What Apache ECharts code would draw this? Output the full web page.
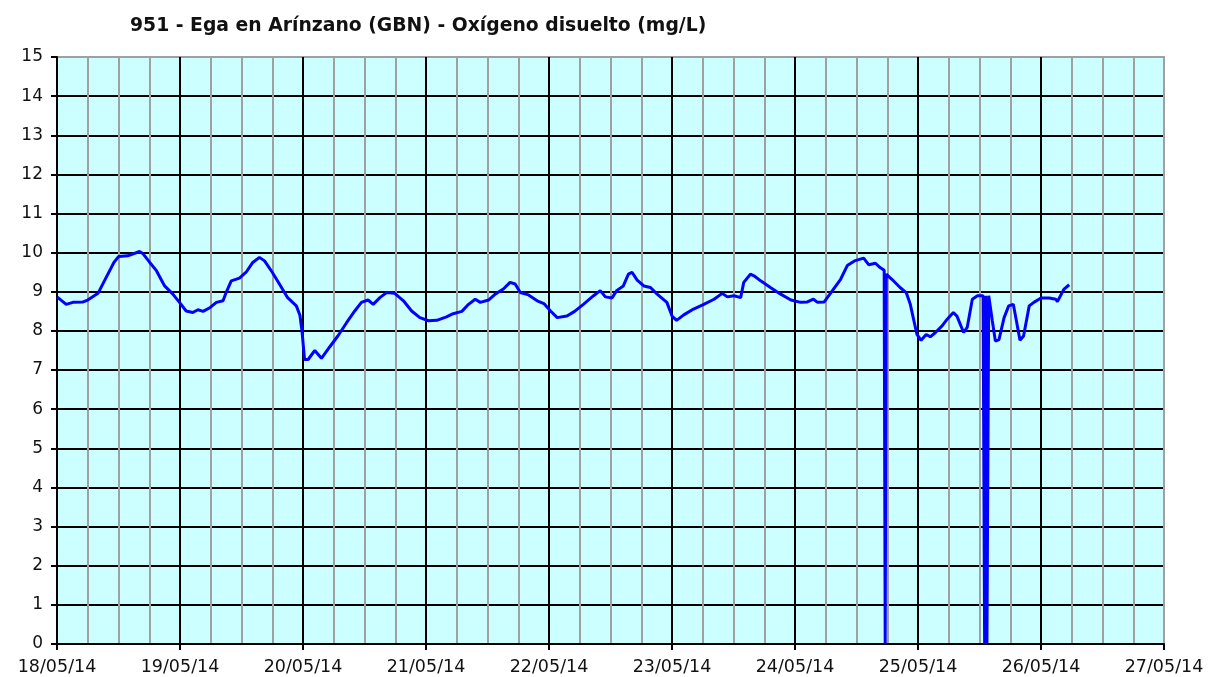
<!DOCTYPE html>
<html>
<head>
<meta charset="utf-8">
<title>951 - Ega en Arínzano (GBN) - Oxígeno disuelto</title>
<script src="https://cdn.jsdelivr.net/npm/echarts@6/dist/echarts.min.js"></script>
<style>
  html, body { margin: 0; padding: 0; background: #fff; }
  #chart { width: 1208px; height: 677px; }
</style>
</head>
<body>
<div id="chart"></div>
<script>
// horas desde 18/05/14 00:00
var hours = [
  0, 1.8, 3.1, 5.1, 6.0, 8.0, 9.6, 11.1, 12.0, 13.8, 16.1, 16.8, 18.1, 19.4, 21.0, 22.6, 23.9,
  25.2, 26.5, 27.5, 28.5, 29.9, 31.1, 32.4, 33.0, 34.0, 35.6, 36.9, 38.2, 39.5, 40.5, 42.0, 43.4, 45.0, 46.7, 47.4, 47.8,
  48.3, 49.0, 50.3, 51.6, 53.2, 54.8, 56.5, 58.1, 59.4, 60.7, 61.7, 63.0, 64.3, 65.9, 67.6, 69.2, 70.8,
  72.5, 74.1, 76.0, 77.3, 79.0, 80.3, 81.6, 82.6, 84.2, 85.5, 87.1, 88.4, 89.4, 90.4, 92.0, 93.7, 95.0,
  96.3, 97.6, 99.5, 101.0, 102.7, 104.7, 106.0, 107.0, 108.3, 109.2, 110.5, 111.5, 112.2, 113.2, 114.5, 115.8, 117.1, 119.0,
  120.0, 120.9, 122.3, 124.2, 126.2, 128.2, 129.8, 130.8, 132.1, 133.4, 134.0, 135.3, 136.0, 137.3, 139.2, 141.2, 143.2,
  145.1, 146.4, 147.6, 148.4, 149.7, 151.3, 152.9, 154.2, 155.6, 157.4, 158.4, 159.7, 160.6, 161.4, 161.6, 161.8,
  162.9, 164.5, 165.7, 166.5, 167.2, 167.8,
  168.6, 169.6, 170.4, 171.4, 172.7, 173.7, 174.9, 175.6, 176.9, 177.6, 178.6, 179.6, 180.7, 181.0, 181.2, 181.45, 181.8,
  182.5, 183.1, 183.8, 184.8, 185.7, 186.6, 187.2, 187.9, 188.6, 189.7, 190.6, 192.0,
  193.6, 194.9, 195.2, 196.5, 197.5
];
// oxígeno disuelto (mg/L)
var oxygen = [
  8.87, 8.68, 8.73, 8.74, 8.79, 8.96, 9.37, 9.75, 9.90, 9.92, 10.03, 9.97, 9.75, 9.54, 9.15, 8.94, 8.73,
  8.51, 8.47, 8.54, 8.50, 8.60, 8.73, 8.77, 8.98, 9.28, 9.35, 9.50, 9.75, 9.88, 9.79, 9.50, 9.20, 8.85, 8.64, 8.40, 8.00,
  7.27, 7.27, 7.50, 7.30, 7.59, 7.87, 8.21, 8.51, 8.73, 8.79, 8.68, 8.85, 8.98, 8.96, 8.77, 8.51, 8.34,
  8.26, 8.27, 8.36, 8.44, 8.50, 8.68, 8.81, 8.73, 8.79, 8.94, 9.07, 9.24, 9.20, 8.98, 8.92, 8.77, 8.70,
  8.51, 8.34, 8.38, 8.50, 8.68, 8.90, 9.03, 8.87, 8.84, 9.03, 9.15, 9.45, 9.50, 9.30, 9.15, 9.11, 8.94, 8.73,
  8.38, 8.27, 8.41, 8.56, 8.68, 8.81, 8.96, 8.87, 8.90, 8.85, 9.24, 9.45, 9.41, 9.28, 9.11, 8.94, 8.79,
  8.73, 8.74, 8.81, 8.73, 8.74, 9.03, 9.32, 9.67, 9.79, 9.86, 9.69, 9.73, 9.62, 9.55, 0, 9.45,
  9.32, 9.11, 8.98, 8.68, 8.26, 7.91,
  7.76, 7.91, 7.85, 7.96, 8.13, 8.30, 8.47, 8.38, 7.96, 8.09, 8.81, 8.90, 8.90, 0, 8.90, 0, 8.90,
  8.26, 7.74, 7.78, 8.34, 8.64, 8.68, 8.26, 7.76, 7.87, 8.64, 8.73, 8.84,
  8.84, 8.81, 8.75, 9.07, 9.18
];
var firstDay = 18;          // 18/05/14
var dayCount = 9;           // hasta 27/05/14
var yMax = 15;

var data = [];
for (var i = 0; i < hours.length; i++) {
  data.push([hours[i], oxygen[i]]);
}

// la última línea de cada eje es el borde gris del gráfico
var hLineColors = [];
for (var k = 0; k < yMax; k++) hLineColors.push('#000');
hLineColors.push('#a0a0a0');
var vLineColors = [];
for (var d = 0; d < dayCount; d++) vLineColors.push('#000');
vLineColors.push('#a0a0a0');

var chart = echarts.init(document.getElementById('chart'));
var option = {
  backgroundColor: '#fff',
  animation: false,
  textStyle: { fontFamily: 'DejaVu Sans' },
  title: {
    text: '951 - Ega en Arínzano (GBN) - Oxígeno disuelto (mg/L)',
    left: 125,
    top: 12,
    textStyle: { fontFamily: 'DejaVu Sans', fontSize: 18.8, fontWeight: 'bold', color: '#111' }
  },
  grid: {
    left: 57, top: 57, right: 44, bottom: 33,
    show: true,
    backgroundColor: '#ccffff',
    borderColor: '#a0a0a0',
    borderWidth: 2
  },
  xAxis: {
    type: 'value',
    min: 0,
    max: dayCount * 24,
    interval: 24,
    axisLine: { lineStyle: { color: '#000', width: 2 } },
    axisTick: { show: true, length: 6, lineStyle: { color: '#000', width: 2 } },
    axisLabel: {
      margin: 14,
      fontSize: 17.5,
      color: '#111',
      formatter: function (v) {
        var day = firstDay + Math.round(v / 24);
        return (day < 10 ? '0' : '') + day + '/05/14';
      }
    },
    splitLine: { show: true, lineStyle: { color: vLineColors, width: 2 } },
    minorTick: { show: false, splitNumber: 4 },
    minorSplitLine: { show: true, lineStyle: { color: '#a0a0a0', width: 2 } }
  },
  yAxis: {
    type: 'value',
    min: 0,
    max: yMax,
    interval: 1,
    axisLine: { show: true, lineStyle: { color: '#000', width: 2 } },
    axisTick: { show: true, length: 6, lineStyle: { color: '#000', width: 2 } },
    axisLabel: { margin: 14, fontSize: 17, color: '#111' },
    splitLine: { show: true, lineStyle: { color: hLineColors, width: 2 } }
  },
  series: [
    {
      name: 'Oxígeno disuelto',
      type: 'line',
      data: data,
      showSymbol: false,
      symbol: 'none',
      lineStyle: { color: '#0000ff', width: 3 },
      z: 5
    }
  ]
};
chart.setOption(option);
</script>
</body>
</html>
